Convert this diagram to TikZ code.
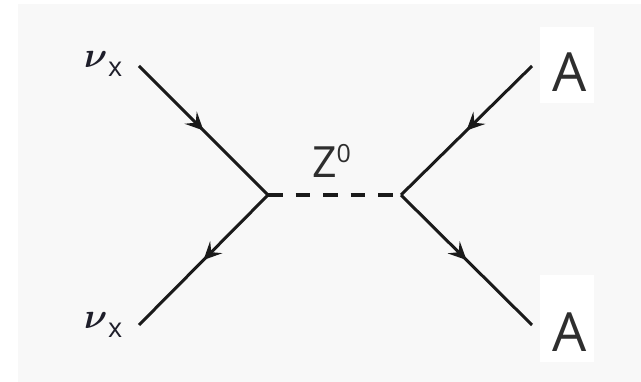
\documentclass[tikz,border=0pt]{standalone}
\usepackage{graphicx}
\usepackage{amsmath}
\usepackage{fontspec}
\newfontfamily\osans{Open Sans}
\usetikzlibrary{arrows.meta,decorations.markings}
\definecolor{bgc}{HTML}{F8F8F8}
\definecolor{linec}{HTML}{1A1A1A}
\definecolor{txtc}{HTML}{2E2E2E}
\definecolor{nuc}{HTML}{1E1E2A}
\tikzset{
  fermion/.style={draw=linec, line width=3pt, postaction={decorate},
    decoration={markings, mark=at position #1 with {\arrow[linec]{Stealth[length=18pt,width=17pt,inset=7pt]}}}},
  fermion/.default=0.5,
  boson/.style={draw=linec, line width=3.2pt, dash pattern=on 14.5pt off 13pt},
  lbl/.style={inner sep=0pt, outer sep=0pt, text=txtc, anchor=base west},
  nulbl/.style={inner sep=0pt, outer sep=0pt, text=nuc, anchor=base west}
}
\newcommand{\nux}{\scalebox{3.6}{$\boldsymbol{\nu}$}\kern1pt\raisebox{-9pt}{\osans\fontsize{27}{27}\selectfont x}}
\begin{document}
\begin{tikzpicture}[x=1pt,y=-1pt]
\useasboundingbox (0,0) rectangle (641,382);
\fill[white] (0,0) rectangle (641,382);
\fill[bgc] (18,4) rectangle (641,382);
\fill[white] (540,27) rectangle (594,103);
\fill[white] (540,275) rectangle (594,362);
% vertices and free ends
\coordinate (vL) at (268,195);
\coordinate (vR) at (401,195);
\coordinate (eTL) at (139,66);
\coordinate (eBL) at (139,325);
\coordinate (eTR) at (532,66);
\coordinate (eBR) at (532,325);
% lines
\draw[fermion] (eTL) -- (vL);
\draw[fermion] (vL) -- (eBL);
\draw[fermion] (eTR) -- (vR);
\draw[fermion] (vR) -- (eBR);
\draw[boson] (vL) -- (vR);
% labels
\node[nulbl] (nu1) at (84,68) {\nux};
\node[nulbl] (nu2) at (84,329) {\nux};
\node[lbl] (z) at (312,178) {\osans\fontsize{43}{43}\selectfont Z\raisebox{15pt}{\fontsize{25}{25}\selectfont 0}};
\node[lbl] (a1) at (552,92) {\osans\fontsize{54}{54}\selectfont A};
\node[lbl] (a2) at (552,352) {\osans\fontsize{54}{54}\selectfont A};
\end{tikzpicture}
\end{document}
